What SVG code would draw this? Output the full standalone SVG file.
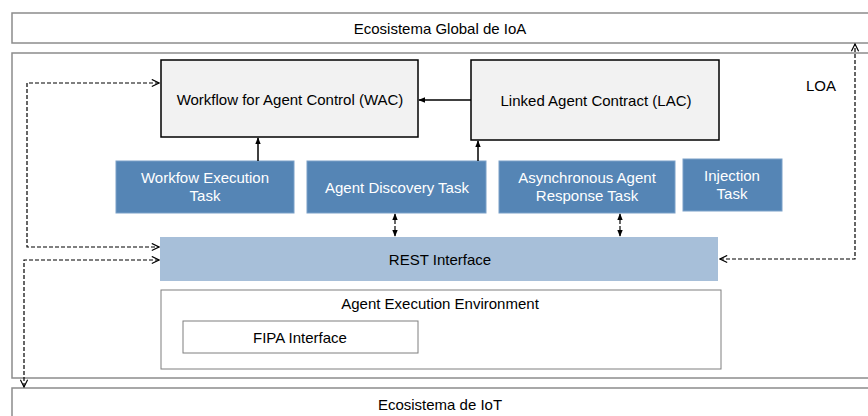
<svg xmlns="http://www.w3.org/2000/svg" width="868" height="416" viewBox="0 0 868 416">
  <style>
    text { font-family: "Liberation Sans", Arial, sans-serif; font-size: 15px; text-anchor: middle; dominant-baseline: central; fill: #000; }
    .frame { fill: #fff; stroke: #8c8c8c; stroke-width: 1.5; }
    .core { fill: #f2f2f2; stroke: #000; stroke-width: 1.5; }
    .task { fill: #5585b5; stroke: #7aa0c8; stroke-width: 1; }
    .task-text { fill: #fff; }
    .rest { fill: #a7bfd9; }
    .env { fill: #fff; stroke: #7f7f7f; stroke-width: 1; }
    .solid { fill: none; stroke: #000; stroke-width: 1.5; }
    .dash { fill: none; stroke: #000; stroke-width: 1.2; stroke-dasharray: 4 2; }
  </style>
  <defs>
    <marker id="open" viewBox="0 0 10 10" refX="9" refY="5" markerWidth="9" markerHeight="9" markerUnits="userSpaceOnUse" orient="auto-start-reverse">
      <path d="M1,1 L9,5 L1,9" fill="none" stroke="#000" stroke-width="1.3"/>
    </marker>
    <marker id="solid" viewBox="0 0 10 10" refX="9" refY="5" markerWidth="7" markerHeight="7" markerUnits="userSpaceOnUse" orient="auto-start-reverse">
      <path d="M0,1 L10,5 L0,9 Z" fill="#000"/>
    </marker>
  </defs>

  <g id="global-ioa">
    <rect class="frame" x="12" y="13" width="870" height="30"/>
    <text x="440" y="28">Ecosistema Global de IoA</text>
  </g>

  <g id="loa">
    <rect class="frame" x="12" y="53" width="870" height="325"/>
    <text x="821" y="85">LOA</text>
  </g>

  <g id="iot">
    <rect class="frame" x="12" y="388" width="870" height="40"/>
    <text x="440" y="404">Ecosistema de IoT</text>
  </g>

  <g id="wac">
    <rect class="core" x="161" y="60" width="257" height="77"/>
    <text x="290" y="99">Workflow for Agent Control (WAC)</text>
  </g>

  <g id="lac">
    <rect class="core" x="471" y="60" width="248" height="80"/>
    <text x="596" y="100">Linked Agent Contract (LAC)</text>
  </g>

  <g id="workflow-execution-task">
    <rect class="task" x="116" y="161" width="178" height="52"/>
    <text class="task-text" x="205" y="177">Workfow Execution</text>
    <text class="task-text" x="205" y="195">Task</text>
  </g>

  <g id="agent-discovery-task">
    <rect class="task" x="307" y="161" width="179" height="52"/>
    <text class="task-text" x="397" y="187">Agent Discovery Task</text>
  </g>

  <g id="async-response-task">
    <rect class="task" x="499" y="161" width="176" height="52"/>
    <text class="task-text" x="587" y="177">Asynchronous Agent</text>
    <text class="task-text" x="587" y="195">Response Task</text>
  </g>

  <g id="injection-task">
    <rect class="task" x="683" y="159" width="99" height="52"/>
    <text class="task-text" x="732" y="175">Injection</text>
    <text class="task-text" x="732" y="193">Task</text>
  </g>

  <g id="rest-interface">
    <rect class="rest" x="160" y="237" width="558" height="44"/>
    <text x="440" y="259">REST Interface</text>
  </g>

  <g id="agent-execution-environment">
    <rect class="env" x="161" y="290" width="560" height="79"/>
    <text x="440" y="303">Agent Execution Environment</text>
  </g>

  <g id="fipa-interface">
    <rect class="env" x="183" y="321" width="235" height="32"/>
    <text x="300" y="337">FIPA Interface</text>
  </g>

  <g id="connectors">
    <!-- LAC to WAC -->
    <path class="solid" d="M471,100 H419" marker-end="url(#solid)"/>
    <!-- tasks up to the contract / workflow boxes -->
    <path class="solid" d="M258,161 V138" marker-end="url(#solid)"/>
    <path class="solid" d="M478,161 V141" marker-end="url(#solid)"/>
    <!-- tasks to REST interface, both ways -->
    <path class="dash" d="M395,214 V236" marker-start="url(#solid)" marker-end="url(#solid)"/>
    <path class="dash" d="M620,214 V236" marker-start="url(#solid)" marker-end="url(#solid)"/>
    <!-- WAC loop to REST -->
    <path class="dash" d="M159,83 H27 V247 H159" marker-start="url(#open)" marker-end="url(#open)"/>
    <!-- REST down to IoT -->
    <path class="dash" d="M159,260 H24 V387" marker-start="url(#open)" marker-end="url(#open)"/>
    <!-- REST up to global IoA -->
    <path class="dash" d="M720,259 H855 V44" marker-start="url(#open)" marker-end="url(#open)"/>
  </g>
</svg>
